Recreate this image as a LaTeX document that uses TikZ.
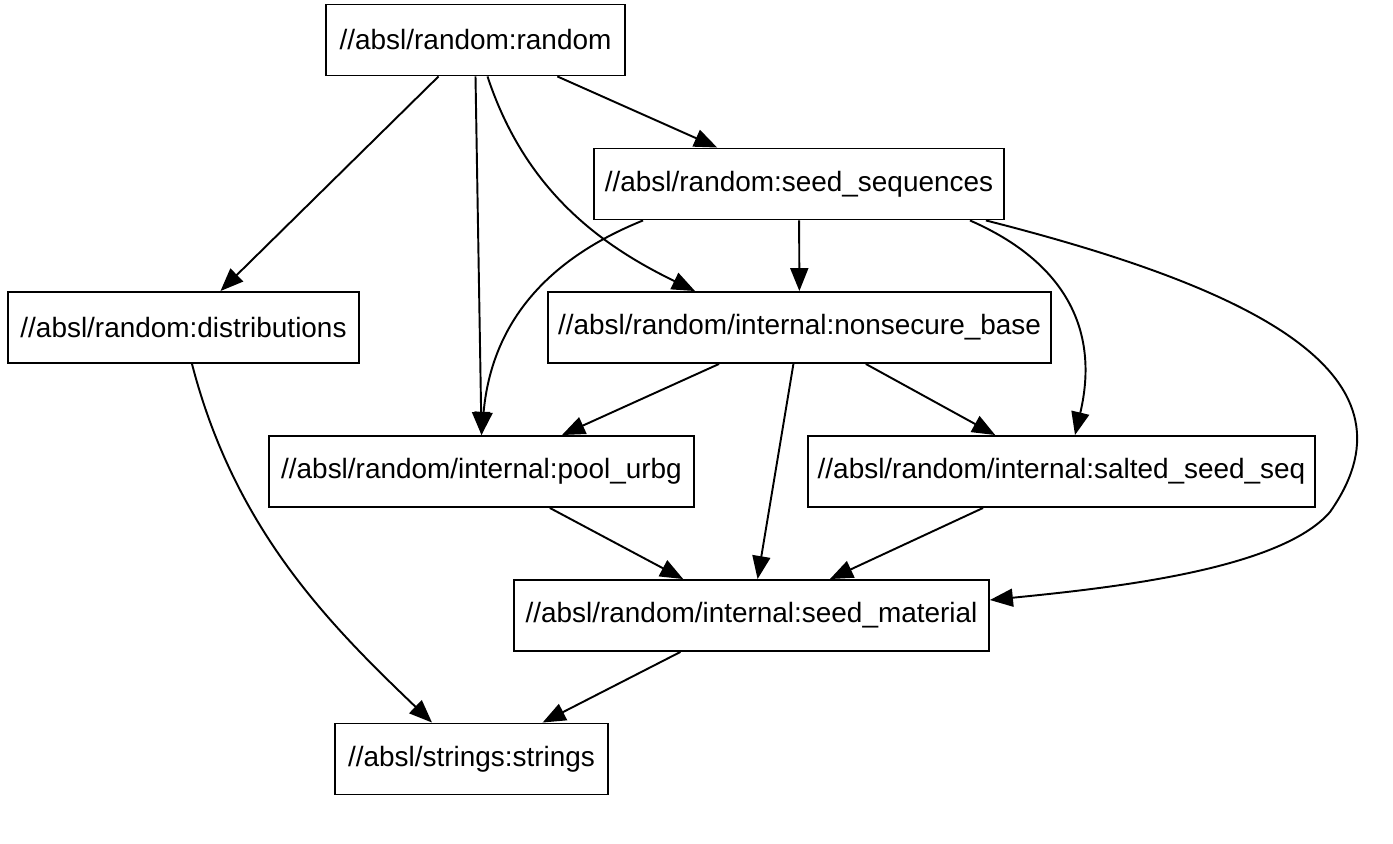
\documentclass[tikz,border=0pt]{standalone}
\usepackage{fontspec}
\setmainfont{Liberation Sans}
\usetikzlibrary{arrows.meta}

\begin{document}
\begin{tikzpicture}[
        x=0.02cm, y=-0.02cm,
        every node/.style={
            font=\fontsize{15.9}{18}\selectfont
        },
        target/.style={
            draw, line width=1.1pt, rectangle, minimum height=1.42cm, inner sep=0pt
        },
        dep/.style={
            -{Triangle[length=0.46cm, width=0.36cm]}, line width=1.1pt
        }
    ]
        \useasboundingbox (0,0) rectangle (1393,844);

        % Targets
        \node[target, minimum width=5.98cm] (random) at (475.5,40) {//absl/random:random};
        \node[target, minimum width=8.2cm] (seedseq) at (799,184) {//absl/random:seed\_sequences};
        \node[target, minimum width=7.02cm] (distributions) at (183.5,327.5) {//absl/random:distributions};
        \node[target, minimum width=10.06cm] (nonsecure) at (799.5,327.5) {//absl/random/internal:nonsecure\_base};
        \node[target, minimum width=8.5cm] (poolurbg) at (481.5,471.5) {//absl/random/internal:pool\_urbg};
        \node[target, minimum width=10.14cm] (salted) at (1061.5,471.5) {//absl/random/internal:salted\_seed\_seq};
        \node[target, minimum width=9.5cm] (seedmat) at (751.5,615.5) {//absl/random/internal:seed\_material};
        \node[target, minimum width=5.46cm] (strings) at (471.5,759) {//absl/strings:strings};

        % Straight dependencies
        \draw[dep] (random) -- (distributions);
        \draw[dep] (random.south) -- (poolurbg.north);
        \draw[dep] (random) -- (seedseq);
        \draw[dep] (seedseq) -- (nonsecure);
        \draw[dep] (nonsecure) -- (poolurbg);
        \draw[dep] (nonsecure) -- (seedmat);
        \draw[dep] (nonsecure) -- (salted);
        \draw[dep] (poolurbg) -- (seedmat);
        \draw[dep] (salted) -- (seedmat);
        \draw[dep] (seedmat) -- (strings);

        % Curved dependencies
        \draw[dep] ([xshift=0.24cm]random.south) .. controls (525,190) and (600,245) .. ([xshift=-2.09cm]nonsecure.north);
        \draw[dep] ([xshift=-3.12cm]seedseq.south) .. controls (550,258) and (492,320) .. (poolurbg.north);
        \draw[dep] ([xshift=3.42cm]seedseq.south) .. controls (1065,262) and (1100,330) .. ([xshift=0.27cm]salted.north);
        \draw[dep] ([xshift=-0.38cm]seedseq.south east) .. controls (1240,285) and (1430,370) .. (1330,512)
            .. controls (1280,570) and (1110,588) .. ([yshift=0.31cm]seedmat.east);
        \draw[dep] ([xshift=0.17cm]distributions.south) .. controls (235,530) and (330,625) .. ([xshift=-0.79cm]strings.north);
    \end{tikzpicture}
\end{document}
